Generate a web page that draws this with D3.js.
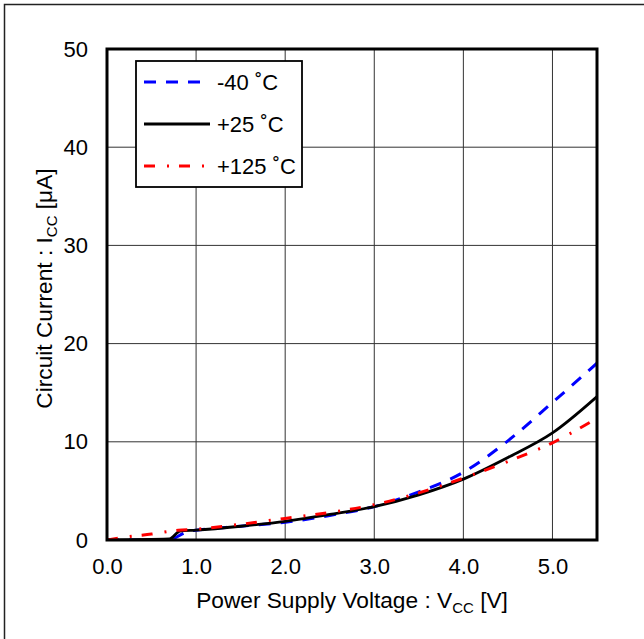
<!DOCTYPE html>
<html>
<head>
<meta charset="utf-8">
<script src="https://cdn.jsdelivr.net/npm/d3@7"></script>
<style>
  body { margin: 0; background: #fff; }
  svg text { font-family: Arial, "Liberation Sans", sans-serif; fill: #000; }
</style>
</head>
<body>
<svg width="644" height="639"></svg>
<script>
// ################################### Data #######################################

var xTicks = [0, 1, 2, 3, 4, 5];
var yTicks = [0, 10, 20, 30, 40, 50];

var seriesNames = ["-40 \u02DAC", "+25 \u02DAC", "+125 \u02DAC"];

// Voltage [V] / current [uA]
var vccMinus40 = [0, 0.7, 0.76, 0.84, 0.92, 1.0, 1.5, 2.0, 2.5, 3.0, 3.5, 4.0, 4.5, 5.0, 5.5];
var iccMinus40 = [0, 0, 0.2, 0.6, 0.9, 1.0, 1.4, 1.8, 2.5, 3.4, 4.9, 6.9, 10.1, 14.0, 18.0];

var vcc25 = [0, 0.7, 0.82, 1.0, 1.5, 2.0, 2.5, 3.0, 3.5, 4.0, 4.5, 5.0, 5.5];
var icc25 = [0, 0.1, 0.9, 1.0, 1.4, 1.9, 2.6, 3.4, 4.6, 6.2, 8.4, 10.9, 14.6];

var vcc125 = [0, 0.2, 0.5, 0.8, 1.0, 1.5, 2.0, 2.5, 3.0, 3.5, 4.0, 4.5, 5.0, 5.5];
var icc125 = [0, 0.3, 0.6, 1.0, 1.1, 1.6, 2.2, 2.8, 3.6, 4.8, 6.3, 8.0, 9.9, 12.4];

// ################################### Layout #######################################

var svg = d3.select("svg");
var plot = {l: 107, t: 49, r: 597, b: 540};

var x = d3.scaleLinear().domain([0, 5.5]).range([plot.l, plot.r]);
var y = d3.scaleLinear().domain([0, 50]).range([plot.b, plot.t]);

// outer frame (right / bottom sides are cut off in the original)
svg.append("rect")
    .attr("x", 4.5).attr("y", 4.5)
    .attr("width", 700).attr("height", 700)
    .attr("fill", "none")
    .attr("stroke", "#222")
    .attr("stroke-width", 1.5);

// ################################### Grid #######################################

svg.append("g").selectAll("line")
    .data(xTicks.slice(1))
    .enter().append("line")
    .attr("x1", function(d) { return x(d); })
    .attr("x2", function(d) { return x(d); })
    .attr("y1", plot.t).attr("y2", plot.b)
    .attr("stroke", "#333").attr("stroke-width", 1);

svg.append("g").selectAll("line")
    .data(yTicks.slice(1, -1))
    .enter().append("line")
    .attr("y1", function(d) { return y(d); })
    .attr("y2", function(d) { return y(d); })
    .attr("x1", plot.l).attr("x2", plot.r)
    .attr("stroke", "#333").attr("stroke-width", 1);

// ################################### Axes #######################################

var xAxis = svg.append("g")
    .attr("transform", "translate(0," + plot.b + ")")
    .call(d3.axisBottom(x).tickValues(xTicks).tickSize(0).tickPadding(16)
        .tickFormat(d3.format(".1f")));
xAxis.select(".domain").remove();
xAxis.selectAll("text").style("font-size", "22px").attr("dy", "0.71em").attr("y", 18);

var yAxis = svg.append("g")
    .attr("transform", "translate(" + plot.l + ",0)")
    .call(d3.axisLeft(y).tickValues(yTicks).tickSize(0).tickPadding(19));
yAxis.select(".domain").remove();
yAxis.selectAll("text").style("font-size", "22px");

// ################################### Curves #######################################

svg.append("clipPath").attr("id", "clip")
    .append("rect")
    .attr("x", plot.l).attr("y", plot.t - 5)
    .attr("width", plot.r - plot.l).attr("height", plot.b - plot.t + 5);

var line = d3.line()
    .x(function(d) { return x(d[0]); })
    .y(function(d) { return y(d[1]); })
    .curve(d3.curveMonotoneX);

var styles = [
    {color: "#0000ff", dash: "12,10", width: 3},
    {color: "#000000", dash: null, width: 2.8},
    {color: "#ff0000", dash: "11,12,2,10", width: 3}
];
var series = [
    d3.zip(vccMinus40, iccMinus40),
    d3.zip(vcc25, icc25),
    d3.zip(vcc125, icc125)
];

var curveG = svg.append("g").attr("clip-path", "url(#clip)");
series.forEach(function(s, i) {
    curveG.append("path")
        .datum(s)
        .attr("d", line)
        .attr("fill", "none")
        .attr("stroke", styles[i].color)
        .attr("stroke-width", styles[i].width)
        .attr("stroke-dasharray", styles[i].dash);
});

// plot frame
svg.append("rect")
    .attr("x", plot.l).attr("y", plot.t)
    .attr("width", plot.r - plot.l).attr("height", plot.b - plot.t)
    .attr("fill", "none")
    .attr("stroke", "#000")
    .attr("stroke-width", 3);

// ################################### Titles #######################################

var xTitle = svg.append("text")
    .attr("x", (plot.l + plot.r) / 2)
    .attr("y", 608)
    .attr("text-anchor", "middle")
    .style("font-size", "22.7px");
xTitle.append("tspan").text("Power Supply Voltage : V");
xTitle.append("tspan").text("CC").style("font-size", "15px").attr("dy", 5);
xTitle.append("tspan").text(" [V]").attr("dy", -5);

var yTitle = svg.append("text")
    .attr("transform", "translate(44," + ((plot.t + plot.b) / 2 - 6) + ") rotate(-90)")
    .attr("text-anchor", "middle")
    .attr("dy", "0.35em")
    .style("font-size", "22.7px");
yTitle.append("tspan").text("Circuit Current : I");
yTitle.append("tspan").text("CC").style("font-size", "15px").attr("dy", 5);
yTitle.append("tspan").text(" [\u03BCA]").attr("dy", -5);

// ################################### Legend #######################################

var legendG = svg.append("g");
legendG.append("rect")
    .attr("x", 136).attr("y", 61)
    .attr("width", 166).attr("height", 126)
    .attr("fill", "#fff")
    .attr("stroke", "#000")
    .attr("stroke-width", 1.8);

seriesNames.forEach(function(name, i) {
    var cy = 82 + i * 42;
    legendG.append("line")
        .attr("x1", 144).attr("x2", 210)
        .attr("y1", cy).attr("y2", cy)
        .attr("stroke", styles[i].color)
        .attr("stroke-width", 3)
        .attr("stroke-dasharray", styles[i].dash);
    legendG.append("text")
        .attr("x", 217).attr("y", cy)
        .attr("dy", "0.35em")
        .style("font-size", "22px")
        .text(name);
});
</script>
</body>
</html>
